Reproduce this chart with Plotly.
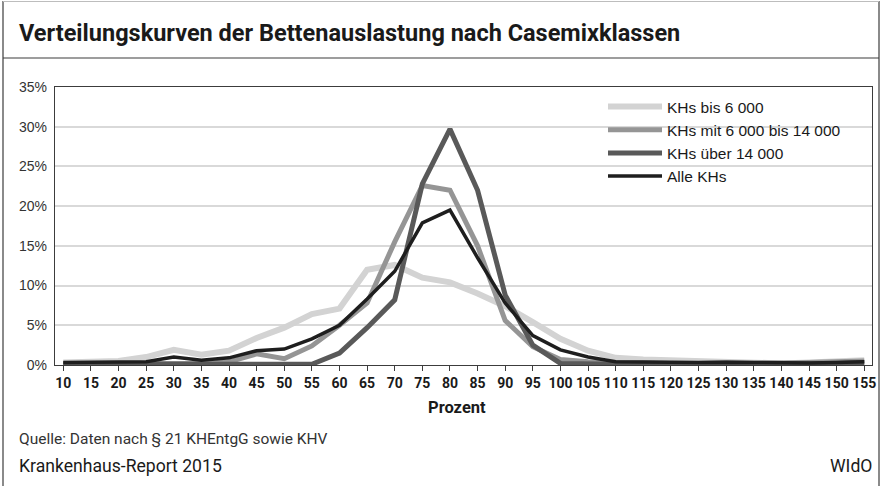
import plotly.graph_objects as go

# ---------------- data ----------------
prozent = list(range(10, 160, 5))

kh_bis_6000 = [0.3, 0.4, 0.5, 1.0, 1.9, 1.3, 1.8, 3.4, 4.7, 6.4,
               7.1, 12.0, 12.6, 11.0, 10.4, 9.0, 7.4, 5.4, 3.3, 1.8,
               0.9, 0.7, 0.6, 0.5, 0.4, 0.3, 0.2, 0.3, 0.4, 0.6]
kh_6000_14000 = [0.2, 0.2, 0.2, 0.2, 0.3, 0.2, 0.4, 1.4, 0.8, 2.4,
                 5.0, 7.8, 15.5, 22.6, 22.0, 15.0, 5.6, 2.3, 0.7, 0.4,
                 0.3, 0.2, 0.2, 0.2, 0.3, 0.2, 0.2, 0.3, 0.4, 0.5]
kh_ueber_14000 = [0.1, 0.1, 0.1, 0.1, 0.1, 0.1, 0.1, 0.1, 0.1, 0.1,
                  1.5, 4.7, 8.2, 22.8, 29.7, 22.0, 8.8, 2.5, 0.2, 0.1,
                  0.1, 0.1, 0.1, 0.1, 0.1, 0.1, 0.1, 0.1, 0.2, 0.3]
alle_khs = [0.3, 0.3, 0.3, 0.4, 1.0, 0.6, 0.9, 1.8, 2.0, 3.3,
            5.0, 8.3, 11.8, 17.9, 19.5, 13.5, 7.8, 3.7, 1.9, 1.0,
            0.4, 0.35, 0.3, 0.3, 0.35, 0.3, 0.2, 0.25, 0.3, 0.4]

series_names = ["KHs bis 6 000", "KHs mit 6 000 bis 14 000", "KHs über 14 000", "Alle KHs"]
series_values = [kh_bis_6000, kh_6000_14000, kh_ueber_14000, alle_khs]
series_colors = ["#d3d3d3", "#959595", "#595959", "#1e1e1e"]
series_widths = [6, 5, 5, 3.5]

# ---------------- geometry ----------------
W, H = 881, 486
L, R, T, B = 55, 872, 87, 365


def px(x):
    return (x - L) / (R - L)


def py(y):
    return (B - y) / (B - T)


FONT = "Liberation Sans"
TFONT = "Roboto"

fig = go.Figure()
for name, vals, color, width in zip(series_names, series_values, series_colors, series_widths):
    fig.add_trace(go.Scatter(
        x=prozent, y=vals, mode="lines", name=name, legendgroup=name,
        line=dict(color=color, width=width),
    ))

frame = "#3c3c3c"
shapes = [
    # white backing behind legend (hides gridlines)
    dict(type="rect", xref="paper", yref="paper", x0=px(587), x1=px(871), y0=py(192), y1=py(88),
         fillcolor="white", line=dict(width=0), layer="between"),
    # outer frame
    dict(type="line", xref="paper", yref="paper", x0=px(3), x1=px(3), y0=py(1), y1=py(486),
         line=dict(color=frame, width=1.2)),
    dict(type="line", xref="paper", yref="paper", x0=px(879), x1=px(879), y0=py(1), y1=py(486),
         line=dict(color=frame, width=1.2)),
    dict(type="line", xref="paper", yref="paper", x0=px(3), x1=px(879), y0=py(1.5), y1=py(1.5),
         line=dict(color="#bdbdbd", width=1)),
    dict(type="line", xref="paper", yref="paper", x0=px(3), x1=px(879), y0=py(58), y1=py(58),
         line=dict(color=frame, width=1.2)),
]

annotations = [
    dict(text="<b>Verteilungskurven der Bettenauslastung nach Casemixklassen</b>",
         xref="paper", yref="paper", x=px(17), y=py(33), xanchor="left", yanchor="middle",
         showarrow=False, font=dict(family=TFONT, size=23.5, color="#1a1a1a")),
    dict(text="<b>Prozent</b>", xref="paper", yref="paper", x=px(457), y=py(407),
         xanchor="center", yanchor="middle", showarrow=False,
         font=dict(family=TFONT, size=16.5, color="#1a1a1a")),
    dict(text="Quelle: Daten nach § 21 KHEntgG sowie KHV", xref="paper", yref="paper",
         x=px(17), y=py(439), xanchor="left", yanchor="middle", showarrow=False,
         font=dict(family=TFONT, size=15.5, color="#333333")),
    dict(text="Krankenhaus-Report 2015", xref="paper", yref="paper",
         x=px(17), y=py(466), xanchor="left", yanchor="middle", showarrow=False,
         font=dict(family=TFONT, size=17.6, color="#1a1a1a")),
    dict(text="WIdO", xref="paper", yref="paper",
         x=px(874), y=py(466), xanchor="right", yanchor="middle", showarrow=False,
         font=dict(family=TFONT, size=17.6, color="#1a1a1a")),
]

fig.update_layout(
    width=W, height=H, autosize=False,
    margin=dict(l=L, r=W - R, t=T, b=H - B, pad=0),
    paper_bgcolor="white", plot_bgcolor="white",
    font=dict(family=FONT, color="#1a1a1a"),
    showlegend=True,
    legend=dict(x=px(603), y=py(90), xanchor="left", yanchor="top",
                bgcolor="rgba(0,0,0,0)", borderwidth=0,
                font=dict(family=FONT, size=15.5, color="#1a1a1a"),
                itemwidth=54, tracegroupgap=5, traceorder="normal"),
    shapes=shapes,
    annotations=annotations,
    xaxis=dict(range=[8.5, 156.4], tickmode="array", tickvals=prozent,
               ticktext=[str(v) for v in prozent], automargin=False,
               showgrid=False, zeroline=False,
               showline=True, mirror=True, linecolor=frame, linewidth=1.3,
               ticks="outside", ticklen=5, tickcolor=frame, tickwidth=1,
               tickfont=dict(family=TFONT, size=14, color="#1a1a1a", weight="bold")),
    yaxis=dict(range=[0, 35], dtick=5, ticksuffix="%", automargin=False,
               showgrid=True, gridcolor="#d9d9d9", gridwidth=1.5, zeroline=False,
               showline=True, mirror=True, linecolor=frame, linewidth=1.3,
               ticks="", ticklabelstandoff=4,
               tickfont=dict(family=FONT, size=14, color="#333333")),
)

fig.write_html("out.html", config={"displayModeBar": False},
               post_script="document.body.style.margin='0';document.body.style.overflow='hidden';")
